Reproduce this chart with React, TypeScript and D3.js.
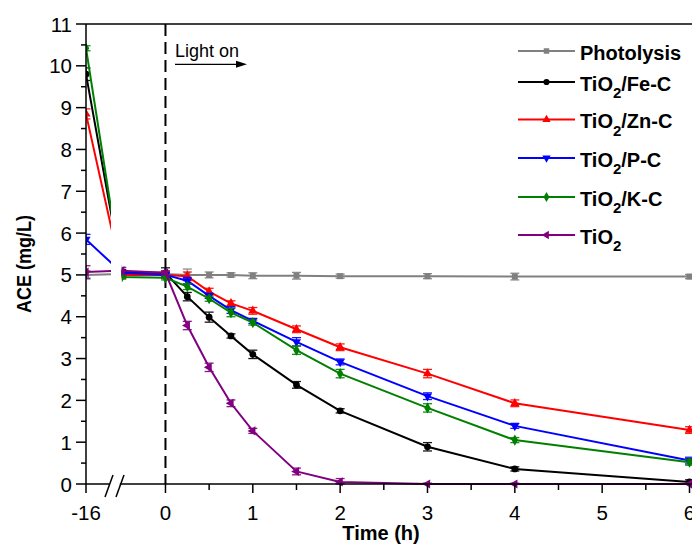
import React from "react";
import * as d3 from "d3";

const times = [-16, -0.5, 0, 0.25, 0.5, 0.75, 1, 1.5, 2, 3, 4, 6];

const photolysis = [5.0, 5.02, 5.02, 5.0, 5.0, 5.0, 4.98, 4.98, 4.97, 4.97, 4.96, 4.96];
const photolysisErr = [0.1, 0.05, 0.05, 0.14, 0.07, 0.05, 0.07, 0.08, 0.05, 0.06, 0.08, 0.05];
const feC = [9.8, 5.05, 5.05, 4.48, 3.99, 3.54, 3.1, 2.37, 1.75, 0.89, 0.36, 0.05];
const feCErr = [0.15, 0.08, 0.12, 0.1, 0.12, 0.05, 0.1, 0.08, 0.05, 0.1, 0.05, 0.05];
const znC = [8.85, 5.0, 5.0, 4.97, 4.6, 4.32, 4.14, 3.7, 3.27, 2.64, 1.93, 1.29];
const znCErr = [0.12, 0.08, 0.08, 0.1, 0.08, 0.06, 0.08, 0.08, 0.08, 0.1, 0.08, 0.08];
const pC = [5.85, 5.05, 5.0, 4.86, 4.5, 4.16, 3.9, 3.4, 2.92, 2.1, 1.39, 0.56];
const pCErr = [0.12, 0.05, 0.05, 0.08, 0.06, 0.08, 0.06, 0.1, 0.07, 0.08, 0.06, 0.08];
const kC = [10.42, 4.95, 4.93, 4.72, 4.43, 4.1, 3.86, 3.2, 2.64, 1.82, 1.05, 0.52];
const kCErr = [0.06, 0.05, 0.05, 0.07, 0.06, 0.1, 0.06, 0.1, 0.1, 0.1, 0.06, 0.07];
const tiO2 = [5.07, 5.1, 5.05, 3.79, 2.79, 1.93, 1.27, 0.3, 0.05, 0.0, 0.0, 0.0];
const tiO2Err = [0.15, 0.08, 0.05, 0.1, 0.1, 0.08, 0.06, 0.08, 0.08, 0.02, 0.02, 0.02];

const xTicksMajor = [-16, 0, 1, 2, 3, 4, 5, 6];
const xTicksMinor = [0.5, 1.5, 2.5, 3.5, 4.5, 5.5];
const yTicksMajor = [0, 1, 2, 3, 4, 5, 6, 7, 8, 9, 10, 11];

type Series = {
  base: string;
  sub?: string;
  tail?: string;
  values: number[];
  errs: number[];
  color: string;
  symbol: d3.SymbolType;
  rotate: number;
};

const series: Series[] = [
  { base: "Photolysis", values: photolysis, errs: photolysisErr, color: "#808080", symbol: d3.symbolSquare, rotate: 0 },
  { base: "TiO", sub: "2", tail: "/Fe-C", values: feC, errs: feCErr, color: "#000000", symbol: d3.symbolCircle, rotate: 0 },
  { base: "TiO", sub: "2", tail: "/Zn-C", values: znC, errs: znCErr, color: "#ff0000", symbol: d3.symbolTriangle, rotate: 0 },
  { base: "TiO", sub: "2", tail: "/P-C", values: pC, errs: pCErr, color: "#0000ff", symbol: d3.symbolTriangle, rotate: 180 },
  { base: "TiO", sub: "2", tail: "/K-C", values: kC, errs: kCErr, color: "#008000", symbol: d3.symbolDiamond, rotate: 0 },
  { base: "TiO", sub: "2", values: tiO2, errs: tiO2Err, color: "#800080", symbol: d3.symbolTriangle, rotate: -90 },
];

const W = 692;
const H = 547;
const left = 86;
const top = 24;
const bottom = 484;
const right = 689.5;
const breakA = 111;
const breakB = 121.8;

export default function App() {
  const x = d3.scaleLinear().domain([-16, -0.5, 6]).range([left, breakB, right]);
  const y = d3.scaleLinear().domain([0, 11]).range([bottom, top]);
  const line = d3
    .line<[number, number]>()
    .x((d) => x(d[0]))
    .y((d) => y(d[1]));
  const font = "'Liberation Sans', Arial, sans-serif";
  const legendY = [51, 82, 119.5, 158, 197, 235];

  return (
    <svg width={W} height={H} style={{ position: "absolute", left: 0, top: 0, background: "#fff" }} fontFamily={font}>
      <defs>
        <clipPath id="clipL">
          <rect x={left} y={0} width={breakA - left} height={H} />
        </clipPath>
        <clipPath id="clipR">
          <rect x={breakB} y={0} width={W - breakB} height={H} />
        </clipPath>
      </defs>

      {/* dashed light-on line */}
      <line x1={x(0)} x2={x(0)} y1={top} y2={bottom} stroke="#000" strokeWidth={2} strokeDasharray="12,6" />

      {["clipL", "clipR"].map((cid) => (
        <g key={cid} clipPath={`url(#${cid})`}>
          {series.map((s, si) => {
            const pts = times.map((t, i) => [t, s.values[i]] as [number, number]);
            return (
              <g key={si}>
                <path d={line(pts) || ""} fill="none" stroke={s.color} strokeWidth={2} />
                {pts.map((p, i) => {
                  const cx = x(p[0]);
                  const e = s.errs[i];
                  const y1 = y(p[1] + e);
                  const y2 = y(Math.max(0, p[1] - e));
                  return (
                    <g key={i} stroke={s.color} strokeWidth={1.3} opacity={0.9}>
                      <line x1={cx} x2={cx} y1={y1} y2={y2} />
                      <line x1={cx - 4.5} x2={cx + 4.5} y1={y1} y2={y1} />
                      <line x1={cx - 4.5} x2={cx + 4.5} y1={y2} y2={y2} />
                    </g>
                  );
                })}
                {pts.map((p, i) => (
                  <path
                    key={"m" + i}
                    d={d3.symbol().type(s.symbol).size(36)() || ""}
                    transform={`translate(${x(p[0])},${y(p[1])}) rotate(${s.rotate})`}
                    fill={s.color}
                  />
                ))}
              </g>
            );
          })}
        </g>
      ))}

      {/* frame */}
      <line x1={left} x2={W} y1={top} y2={top} stroke="#000" strokeWidth={1.5} />
      <line x1={left} x2={left} y1={top} y2={bottom} stroke="#000" strokeWidth={1.5} />
      <line x1={left} x2={breakA - 1} y1={bottom} y2={bottom} stroke="#000" strokeWidth={1.5} />
      <line x1={breakB - 2} x2={W} y1={bottom} y2={bottom} stroke="#000" strokeWidth={1.5} />
      <line x1={105} x2={113} y1={497} y2={475} stroke="#000" strokeWidth={1.5} />
      <line x1={116} x2={124} y1={497} y2={475} stroke="#000" strokeWidth={1.5} />

      {/* y ticks */}
      {yTicksMajor.map((v) => (
        <g key={"y" + v}>
          <line x1={left - 10} x2={left} y1={y(v)} y2={y(v)} stroke="#000" strokeWidth={1.5} />
          <text x={72} y={y(v) + 7.5} textAnchor="end" fontSize={20.5}>
            {v}
          </text>
        </g>
      ))}
      {yTicksMajor.slice(0, -1).map((v) => (
        <line key={"ym" + v} x1={left - 5} x2={left} y1={y(v + 0.5)} y2={y(v + 0.5)} stroke="#000" strokeWidth={1.5} />
      ))}

      {/* x ticks */}
      {xTicksMajor.map((v) => (
        <g key={"x" + v}>
          <line x1={x(v)} x2={x(v)} y1={bottom} y2={bottom + 9} stroke="#000" strokeWidth={1.5} />
          <text x={x(v)} y={520} textAnchor="middle" fontSize={20.5}>
            {v}
          </text>
        </g>
      ))}
      {xTicksMinor.map((v) => (
        <line key={"xm" + v} x1={x(v)} x2={x(v)} y1={bottom} y2={bottom + 6} stroke="#000" strokeWidth={1.5} />
      ))}

      {/* axis titles */}
      <text x={381} y={540} textAnchor="middle" fontSize={20} fontWeight="bold">
        Time (h)
      </text>
      <text
        transform="translate(31,264) rotate(-90)"
        textAnchor="middle"
        fontSize={20.5}
        fontWeight="bold"
        textLength={98}
        lengthAdjust="spacingAndGlyphs"
      >
        ACE (mg/L)
      </text>

      {/* Light on annotation */}
      <text x={175} y={57} fontSize={18}>
        Light on
      </text>
      <line x1={175} x2={238} y1={64.3} y2={64.3} stroke="#000" strokeWidth={1.2} />
      <path d="M236,60.8 L247,64.3 L236,67.8 Z" fill="#000" />

      {/* legend */}
      {series.map((s, i) => {
        const ly = legendY[i];
        return (
          <g key={"lg" + i}>
            <line x1={518} x2={575} y1={ly} y2={ly} stroke={s.color} strokeWidth={2} />
            <path
              d={d3.symbol().type(s.symbol).size(30)() || ""}
              transform={`translate(546.5,${ly}) rotate(${s.rotate})`}
              fill={s.color}
            />
            <text x={580} y={ly + 8.7} fontSize={20} fontWeight="bold">
              {s.base}
              {s.sub ? (
                <tspan fontSize={15} dy={7.5}>
                  {s.sub}
                </tspan>
              ) : null}
              {s.tail ? <tspan dy={-7.5}>{s.tail}</tspan> : null}
            </text>
          </g>
        );
      })}
    </svg>
  );
}
